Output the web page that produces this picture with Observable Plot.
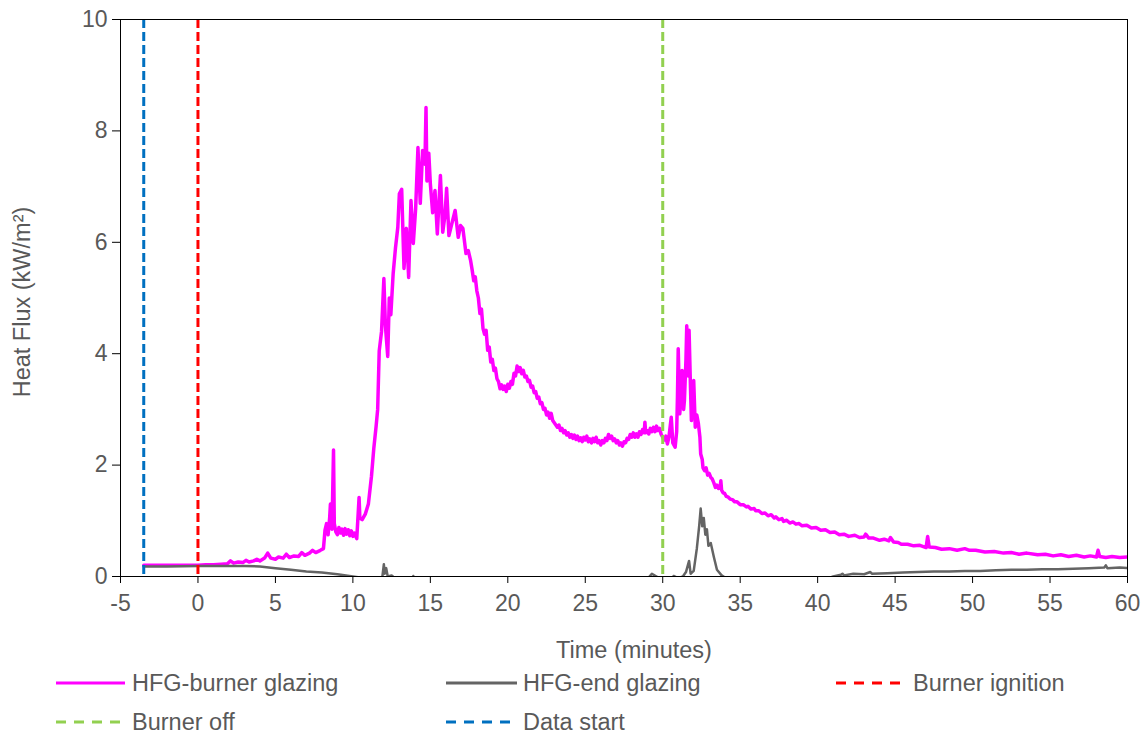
<!DOCTYPE html>
<html>
<head>
<meta charset="utf-8">
<script src="https://cdn.jsdelivr.net/npm/d3@7"></script>
<script src="https://cdn.jsdelivr.net/npm/@observablehq/plot@0.6"></script>
<style>
  body { margin: 0; background: #fff; font-family: "Liberation Sans", Arial, sans-serif; }
  #wrap { position: relative; width: 1148px; height: 735px; overflow: hidden; }
  #chart svg { display: block; }
  g[aria-label="x-axis tick label"], g[aria-label="y-axis tick label"] { fill: #595959; }
  .lg { position: absolute; height: 30px; display: flex; align-items: center; font-size: 23.5px; color: #595959; white-space: nowrap; }
  .lg svg { display: block; }
</style>
</head>
<body>
<div id="wrap"><div id="chart"></div></div>
<script>
// ---- data (time in minutes, heat flux in kW/m²) ----
const burnerGlazing = [
  [-3.5,0.2],[-3,0.2],[-2,0.2],[-1,0.2],[0,0.2],[0.5,0.21],[1,0.21],[1.5,0.22],[1.9,0.23],[2.1,0.28],
  [2.3,0.24],[2.6,0.26],[2.9,0.25],[3.1,0.29],[3.3,0.26],[3.6,0.28],[3.8,0.31],[4.0,0.28],[4.3,0.33],[4.5,0.42],
  [4.7,0.33],[5.0,0.31],[5.2,0.35],[5.5,0.33],[5.7,0.40],[5.9,0.34],[6.2,0.37],[6.5,0.36],[6.7,0.43],[6.9,0.38],
  [7.2,0.42],[7.4,0.47],[7.6,0.43],[7.9,0.47],[8.1,0.5],[8.2,0.83],[8.3,0.95],[8.4,0.75],[8.5,1.05],[8.55,1.3],
  [8.65,0.85],[8.75,2.27],[8.8,0.95],[8.9,0.8],[9.0,0.75],[9.1,0.88],[9.2,0.78],[9.3,0.85],[9.4,0.74],[9.5,0.86],
  [9.6,0.76],[9.7,0.84],[9.8,0.73],[9.9,0.82],[10.0,0.72],[10.1,0.78],[10.25,0.68],[10.4,1.42],[10.45,1.05],[10.6,1.02],
  [10.8,1.12],[11.0,1.3],[11.2,1.8],[11.35,2.3],[11.5,2.7],[11.6,3.0],[11.7,4.05],[11.85,4.4],[12.0,5.35],[12.1,4.5],
  [12.25,3.95],[12.35,5.0],[12.45,4.7],[12.6,5.44],[12.75,5.9],[12.9,6.27],[13.0,6.87],[13.15,6.95],[13.3,5.53],[13.45,6.25],
  [13.6,5.37],[13.75,6.75],[13.9,5.98],[14.05,6.6],[14.2,7.7],[14.35,6.7],[14.5,7.65],[14.65,7.4],[14.72,8.42],[14.78,7.1],
  [14.9,7.6],[15.0,7.05],[15.15,6.53],[15.3,6.93],[15.45,6.15],[15.65,7.2],[15.8,6.18],[15.95,6.5],[16.05,6.97],[16.2,6.12],
  [16.4,6.35],[16.6,6.57],[16.8,6.09],[16.95,6.3],[17.1,6.25],[17.3,5.8],[17.45,5.85],[17.6,5.67],[17.7,5.5],[17.8,5.31],
  [17.9,5.38],[18.0,5.13],[18.1,5.0],[18.2,4.72],[18.3,4.8],[18.4,4.45],[18.5,4.35],[18.6,4.42],[18.7,4.06],[18.8,4.12],
  [18.9,3.85],[19.0,3.9],[19.1,3.7],[19.2,3.74],[19.3,3.55],[19.4,3.5],[19.5,3.37],[19.6,3.44],[19.7,3.36],[19.8,3.42],
  [19.9,3.32],[20.0,3.45],[20.1,3.38],[20.2,3.5],[20.3,3.45],[20.4,3.65],[20.5,3.6],[20.6,3.78],[20.7,3.68],[20.8,3.75],
  [20.9,3.64],[21.0,3.7],[21.1,3.58],[21.2,3.6],[21.3,3.5],[21.4,3.52],[21.5,3.4],[21.6,3.42],[21.7,3.3],[21.8,3.32],
  [21.9,3.2],[22.0,3.22],[22.1,3.1],[22.2,3.12],[22.3,3.0],[22.4,3.02],[22.5,2.9],[22.6,2.95],[22.7,2.84],[22.8,2.93],
  [22.9,2.8],[23.0,2.76],[23.1,2.72],[23.2,2.68],[23.3,2.72],[23.4,2.62],[23.5,2.66],[23.6,2.58],[23.7,2.62],[23.8,2.54],
  [23.9,2.58],[24.0,2.5],[24.1,2.55],[24.2,2.48],[24.3,2.54],[24.4,2.46],[24.5,2.52],[24.6,2.44],[24.7,2.49],[24.8,2.42],
  [24.9,2.5],[25.0,2.45],[25.1,2.52],[25.2,2.42],[25.3,2.47],[25.4,2.4],[25.5,2.48],[25.6,2.42],[25.7,2.5],[25.8,2.4],
  [25.9,2.44],[26.0,2.36],[26.1,2.44],[26.2,2.4],[26.3,2.48],[26.4,2.44],[26.5,2.55],[26.6,2.48],[26.7,2.52],[26.8,2.44],
  [26.9,2.47],[27.0,2.4],[27.1,2.44],[27.2,2.36],[27.3,2.4],[27.4,2.34],[27.5,2.42],[27.6,2.4],[27.7,2.48],[27.8,2.46],
  [27.9,2.55],[28.0,2.5],[28.1,2.58],[28.2,2.5],[28.3,2.56],[28.4,2.5],[28.5,2.6],[28.6,2.55],[28.7,2.64],[28.8,2.58],
  [28.85,2.77],[28.9,2.58],[29.0,2.62],[29.1,2.56],[29.2,2.66],[29.3,2.6],[29.4,2.68],[29.5,2.6],[29.6,2.7],[29.7,2.62],
  [29.8,2.66],[29.9,2.55],[30.0,2.5],[30.1,2.45],[30.2,2.52],[30.3,2.38],[30.4,2.5],[30.55,2.86],[30.65,2.4],[30.8,2.32],
  [30.9,2.6],[30.95,3.22],[31.0,4.09],[31.1,2.92],[31.2,3.3],[31.25,3.7],[31.35,3.0],[31.4,3.16],[31.5,3.9],[31.55,4.5],
  [31.65,3.6],[31.7,4.42],[31.8,3.3],[31.85,2.8],[31.95,3.2],[32.0,3.52],[32.1,2.68],[32.2,2.9],[32.3,2.75],[32.4,2.5],
  [32.45,2.2],[32.55,2.1],[32.6,1.95],[32.7,1.9],[32.8,1.95],[32.9,1.82],[33.0,1.85],[33.1,1.78],[33.2,1.75],[33.3,1.68],
  [33.4,1.6],[33.5,1.64],[33.6,1.58],[33.7,1.6],[33.75,1.72],[33.8,1.55],[33.9,1.5],[34.0,1.49],[34.1,1.44],[34.2,1.43],
  [34.35,1.39],[34.5,1.38],[34.65,1.34],[34.8,1.34],[35.0,1.29],[35.2,1.29],[35.4,1.25],[35.5,1.26],[35.7,1.21],[35.9,1.22],
  [36.0,1.18],[36.2,1.18],[36.4,1.13],[36.6,1.14],[36.8,1.09],[37.0,1.11],[37.2,1.05],[37.3,1.07],[37.5,1.02],[37.7,1.04],
  [37.8,0.99],[38.0,1.01],[38.2,0.96],[38.4,0.98],[38.6,0.94],[38.8,0.95],[39.0,0.91],[39.3,0.92],[39.6,0.87],[39.9,0.88],
  [40.2,0.83],[40.5,0.84],[40.8,0.79],[41.1,0.8],[41.4,0.75],[41.7,0.76],[42.0,0.72],[42.4,0.74],[42.7,0.7],[43.0,0.71],
  [43.1,0.76],[43.3,0.69],[43.6,0.69],[44.0,0.65],[44.3,0.67],[44.6,0.64],[44.7,0.7],[44.9,0.62],[45.2,0.61],[45.4,0.58],
  [45.8,0.58],[46.2,0.55],[46.6,0.56],[47.0,0.52],[47.1,0.72],[47.2,0.53],[47.6,0.52],[48.0,0.49],[48.5,0.5],[49.0,0.47],
  [49.5,0.5],[49.8,0.47],[50.2,0.47],[50.8,0.44],[51.4,0.45],[52.0,0.42],[52.5,0.43],[53.0,0.4],[53.5,0.42],[54.2,0.39],
  [54.7,0.4],[55.2,0.37],[55.7,0.39],[56.2,0.36],[56.7,0.38],[57.2,0.35],[57.6,0.37],[58.0,0.35],[58.1,0.47],[58.2,0.36],
  [58.6,0.34],[59.0,0.36],[59.5,0.34],[60,0.35]
];
const endGlazing = [
  [-3.5,0.18],[-2,0.18],[0,0.19],[1,0.19],[2,0.19],[3,0.19],[4,0.18],[5,0.15],[6,0.12],[7,0.09],
  [8,0.07],[9,0.04],[10,0.0],[10.5,-0.02],[11.5,-0.02],[11.9,-0.01],[12.0,0.22],[12.05,0.05],[12.15,0.15],[12.25,0.0],
  [12.5,0.02],[12.8,-0.05],[13.85,-0.05],[13.9,0.01],[13.95,-0.05],[29.0,-0.05],[29.3,0.05],[29.6,0.0],[29.8,-0.05],[30.6,-0.05],
  [30.7,0.01],[31.0,-0.03],[31.3,0.0],[31.5,0.08],[31.7,0.28],[31.8,0.05],[32.0,0.1],[32.2,0.5],[32.35,0.9],[32.45,1.22],
  [32.55,0.9],[32.65,1.05],[32.75,0.75],[32.85,0.85],[32.95,0.55],[33.1,0.6],[33.3,0.35],[33.5,0.12],[33.8,0.02],[34.2,-0.05],
  [40.5,-0.05],[41.0,0.0],[41.5,0.03],[41.6,0.05],[41.7,0.02],[42.3,0.05],[43.0,0.04],[43.4,0.08],[43.5,0.05],[44.5,0.06],
  [45.5,0.07],[46.5,0.08],[47.5,0.09],[48.5,0.09],[49.5,0.1],[50.5,0.1],[51.5,0.11],[52.5,0.12],[53.5,0.12],[54.5,0.13],
  [55.5,0.13],[56.5,0.14],[57.5,0.15],[58.5,0.16],[58.6,0.2],[58.7,0.15],[59.5,0.16],[60,0.15]
];
const dataStart = -3.5;
const burnerIgnition = 0;
const burnerOff = 30;
const xTicks = [-5,0,5,10,15,20,25,30,35,40,45,50,55,60];
const yTicks = [0,2,4,6,8,10];
const xTitle = "Time (minutes)";
const yTitle = "Heat Flux (kW/m²)";
const seriesNames = ["HFG-burner glazing","HFG-end glazing","Burner ignition","Burner off","Data start"];
const seriesColors = ["#FF00FF","#646464","#FF0000","#92D050","#0070C0"];
const seriesDashed = [false,false,true,true,true];

// ---- chart ----
const dash = "9,4";
const chart = Plot.plot({
  width: 1148, height: 665,
  marginLeft: 120, marginRight: 21, marginTop: 19, marginBottom: 89,
  x: {domain: [-5, 60]},
  y: {domain: [0, 10]},
  style: {fontFamily: "'Liberation Sans', Arial, sans-serif", fontSize: "23px", color: "#000", background: "#fff"},
  marks: [
    Plot.line(burnerGlazing, {x: d => d[0], y: d => d[1], stroke: seriesColors[0], strokeWidth: 3.5, clip: true}),
    Plot.line(endGlazing, {x: d => d[0], y: d => d[1], stroke: seriesColors[1], strokeWidth: 2.5, clip: true}),
    Plot.ruleX([dataStart], {stroke: seriesColors[4], strokeWidth: 3, strokeDasharray: dash}),
    Plot.ruleX([burnerIgnition], {stroke: seriesColors[2], strokeWidth: 3, strokeDasharray: dash}),
    Plot.ruleX([burnerOff], {stroke: seriesColors[3], strokeWidth: 3, strokeDasharray: dash}),
    Plot.frame({stroke: "#000", strokeWidth: 1}),
    Plot.axisX(xTicks, {tickSize: 7, tickPadding: 11, tickFormat: d => String(d), fontSize: 23, label: null}),
    Plot.axisY(yTicks, {tickSize: 8, tickPadding: 5, tickFormat: d => String(d), fontSize: 23, label: null}),
    Plot.text([xTitle], {text: d => d, frameAnchor: "bottom", textAnchor: "middle", lineAnchor: "middle", dx: 10, dy: 74, fontSize: 23.5, fill: "#595959"}),
    Plot.text([yTitle], {text: d => d, frameAnchor: "left", textAnchor: "middle", lineAnchor: "middle", dx: -98, dy: 4, rotate: -90, fontSize: 23.5, fill: "#595959"})
  ]
});
document.getElementById("chart").appendChild(chart);

// ---- legend ----
const legendPos = [
  {x1: 56, x2: 125, tx: 132, y: 683},
  {x1: 446, x2: 517, tx: 523, y: 683},
  {x1: 836, x2: 903, tx: 913, y: 683},
  {x1: 56, x2: 123, tx: 132, y: 722},
  {x1: 446, x2: 515, tx: 523, y: 722}
];
const wrap = document.getElementById("wrap");
seriesNames.forEach((name, i) => {
  const p = legendPos[i];
  const div = document.createElement("div");
  div.className = "lg";
  div.style.left = p.x1 + "px";
  div.style.top = (p.y - 15) + "px";
  const w = p.x2 - p.x1;
  const ns = "http://www.w3.org/2000/svg";
  const s = document.createElementNS(ns, "svg");
  s.setAttribute("width", w);
  s.setAttribute("height", 30);
  const ln = document.createElementNS(ns, "line");
  ln.setAttribute("x1", 0); ln.setAttribute("x2", w);
  ln.setAttribute("y1", 15); ln.setAttribute("y2", 15);
  ln.setAttribute("stroke", seriesColors[i]);
  ln.setAttribute("stroke-width", 3);
  if (seriesDashed[i]) ln.setAttribute("stroke-dasharray", "10,8");
  s.appendChild(ln);
  div.appendChild(s);
  const t = document.createElement("span");
  t.textContent = name;
  t.style.marginLeft = (p.tx - p.x2) + "px";
  div.appendChild(t);
  wrap.appendChild(div);
});
</script>
</body>
</html>
